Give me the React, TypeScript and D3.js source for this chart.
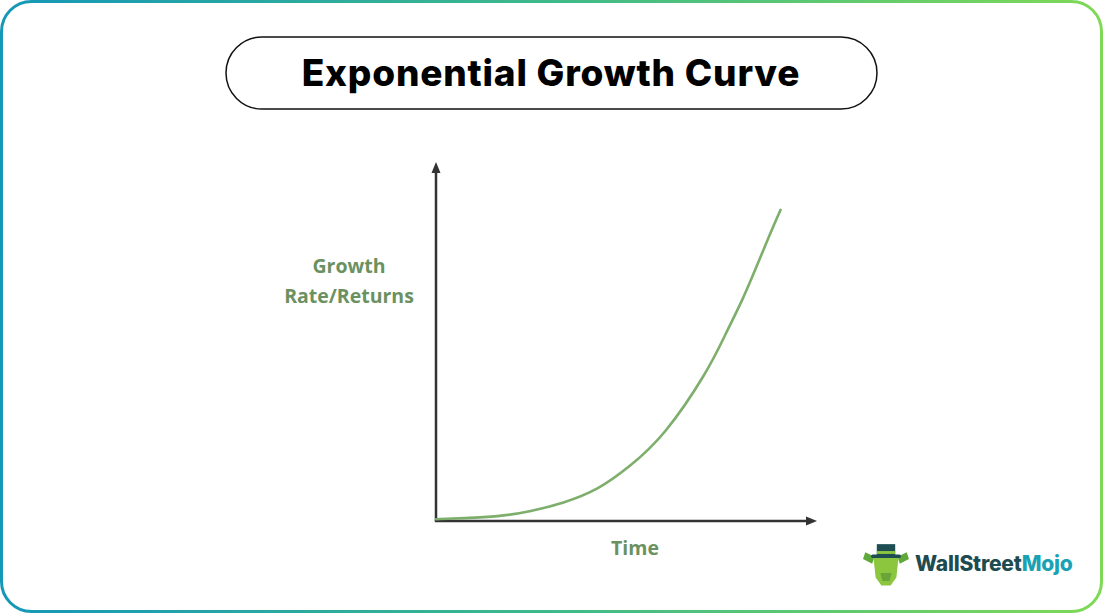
import React from "react";
import * as d3 from "d3";

const timeValues = [0, 0.8, 1.8, 2.7, 3.7, 4.7, 5.6, 6.6, 7.9, 8.4, 8.9, 9.3, 9.7, 10];
const growthValues = [0.5, 0.8, 1.2, 2.6, 5.0, 8.7, 15.1, 23.5, 42.2, 52.5, 62.1, 71.4, 80.8, 87.4];
const titleText = "Exponential Growth Curve";
const yLabelLines = ["Growth", "Rate/Returns"];
const xLabelText = "Time";

const W = 1103;
const H = 613;

export default function App() {
  const x = d3.scaleLinear().domain([0, 11]).range([436, 815]);
  const y = d3.scaleLinear().domain([0, 100]).range([521, 165]);
  const pts = timeValues.map((t, i) => [t, growthValues[i]] as [number, number]);
  const line = d3
    .line<[number, number]>()
    .x((d) => x(d[0]))
    .y((d) => y(d[1]))
    .curve(d3.curveBasis);

  const x0 = x(0);
  const y0 = y(0);
  const xEnd = x(11);
  const yEnd = y(100);
  const green = "#6b9160";

  return (
    <svg
      width={W}
      height={H}
      style={{ position: "absolute", left: 0, top: 0 }}
      xmlns="http://www.w3.org/2000/svg"
    >
      <defs>
        <linearGradient id="frameGrad" x1="0" y1="0" x2="1" y2="0">
          <stop offset="0" stopColor="#1597b8" />
          <stop offset="0.5" stopColor="#3fb98a" />
          <stop offset="1" stopColor="#7fd957" />
        </linearGradient>
      </defs>
      <rect x={0} y={0} width={W} height={H} fill="#ffffff" />
      <rect
        x={1.5}
        y={1.5}
        width={W - 3}
        height={H - 3}
        rx={30}
        ry={30}
        fill="#ffffff"
        stroke="url(#frameGrad)"
        strokeWidth={3}
      />
      {/* Title pill */}
      <rect
        x={226}
        y={37}
        width={651}
        height={72}
        rx={36}
        ry={36}
        fill="#ffffff"
        stroke="#111"
        strokeWidth={1.5}
      />
      <text
        x={551}
        y={86}
        textAnchor="middle"
        fontFamily="Inter, 'Open Sans', sans-serif"
        fontWeight={800}
        fontSize={37}
        fill="#000"
        letterSpacing={0.8}
      >
        {titleText}
      </text>

      {/* Axes */}
      <line x1={x0} y1={y0} x2={x0} y2={yEnd + 6} stroke="#333" strokeWidth={2.5} />
      <path d={`M${x0},${yEnd - 3} L${x0 - 4.5},${yEnd + 8} L${x0 + 4.5},${yEnd + 8} Z`} fill="#333" />
      <line x1={x0 - 1.2} y1={y0} x2={xEnd - 6} y2={y0} stroke="#333" strokeWidth={2.5} />
      <path d={`M${xEnd + 2},${y0} L${xEnd - 9},${y0 - 4.5} L${xEnd - 9},${y0 + 4.5} Z`} fill="#333" />

      {/* Curve */}
      <path d={line(pts) || ""} fill="none" stroke="#7dae6b" strokeWidth={2.6} strokeLinecap="round" />

      {/* Axis labels */}
      {yLabelLines.map((s, i) => (
        <text
          key={s}
          x={349}
          y={273 + i * 30}
          textAnchor="middle"
          fontFamily="'Open Sans', sans-serif"
          fontWeight={700}
          fontSize={19.5}
          fill={green}
        >
          {s}
        </text>
      ))}
      <text
        x={635}
        y={555}
        textAnchor="middle"
        fontFamily="'Open Sans', sans-serif"
        fontWeight={700}
        fontSize={19.5}
        fill={green}
      >
        {xLabelText}
      </text>

      {/* Logo */}
      <g transform="translate(886,566) scale(1.15)">
        <path d="M-18,-12 L-10,-8 L-12,-2 L-20,-6 Z" fill="#5fa83a" />
        <path d="M18,-12 L10,-8 L12,-2 L20,-6 Z" fill="#5fa83a" />
        <path d="M-11,-8 L11,-8 L9,10 L4,17 L-4,17 L-9,10 Z" fill="#8cc63f" />
        <rect x={-8} y={-19} width={16} height={10} fill="#1e4e52" />
        <rect x={-13} y={-10} width={26} height={3} rx={1.5} fill="#1e4e52" />
        <rect x={-8} y={-13} width={16} height={2.5} fill="#8cc63f" />
        <path d="M-5,6 L5,6 L3,13 L-3,13 Z" fill="#6aa539" />
      </g>
      <text
        x={915}
        y={571}
        fontFamily="Inter, 'Open Sans', sans-serif"
        fontWeight={800}
        fontSize={21}
        letterSpacing={-0.2}
      >
        <tspan fill="#1e4b50">WallStreet</tspan>
        <tspan fill="#1aa2b4">Mojo</tspan>
      </text>
    </svg>
  );
}
